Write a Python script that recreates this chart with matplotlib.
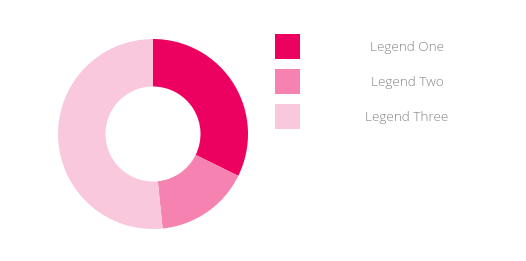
import matplotlib
matplotlib.use("Agg")
import matplotlib.pyplot as plt
from matplotlib.patches import Rectangle

labels = ["Legend One", "Legend Two", "Legend Three"]
values = [20, 10, 32]
colors = ["#EC0060", "#F582B0", "#FAC8DD"]

W, H = 526, 261
fig = plt.figure(figsize=(W / 100, H / 100), dpi=100)
fig.patch.set_facecolor("white")

cx, cy, r = 153, 134, 95
ax = fig.add_axes([(cx - r) / W, (H - cy - r) / H, 2 * r / W, 2 * r / H])
ax.pie(values, colors=colors, startangle=90, counterclock=False, radius=1,
       wedgeprops=dict(width=0.5, linewidth=0))
ax.set_xlim(-1, 1)
ax.set_ylim(-1, 1)
ax.set_aspect("equal")
ax.axis("off")

# legend
for i, (lab, col) in enumerate(zip(labels, colors)):
    top = 34 + 35 * i
    fig.patches.append(Rectangle((275 / W, (H - top - 25) / H), 25 / W, 25 / H,
                                 transform=fig.transFigure, facecolor=col,
                                 edgecolor="none"))
    fig.text(407 / W, (H - top - 13.5) / H, lab, ha="center", va="center",
             fontsize=9.7, color="#858585", family="Open Sans",
             fontweight="light")

fig.savefig("out.png", dpi=100, facecolor="white")
